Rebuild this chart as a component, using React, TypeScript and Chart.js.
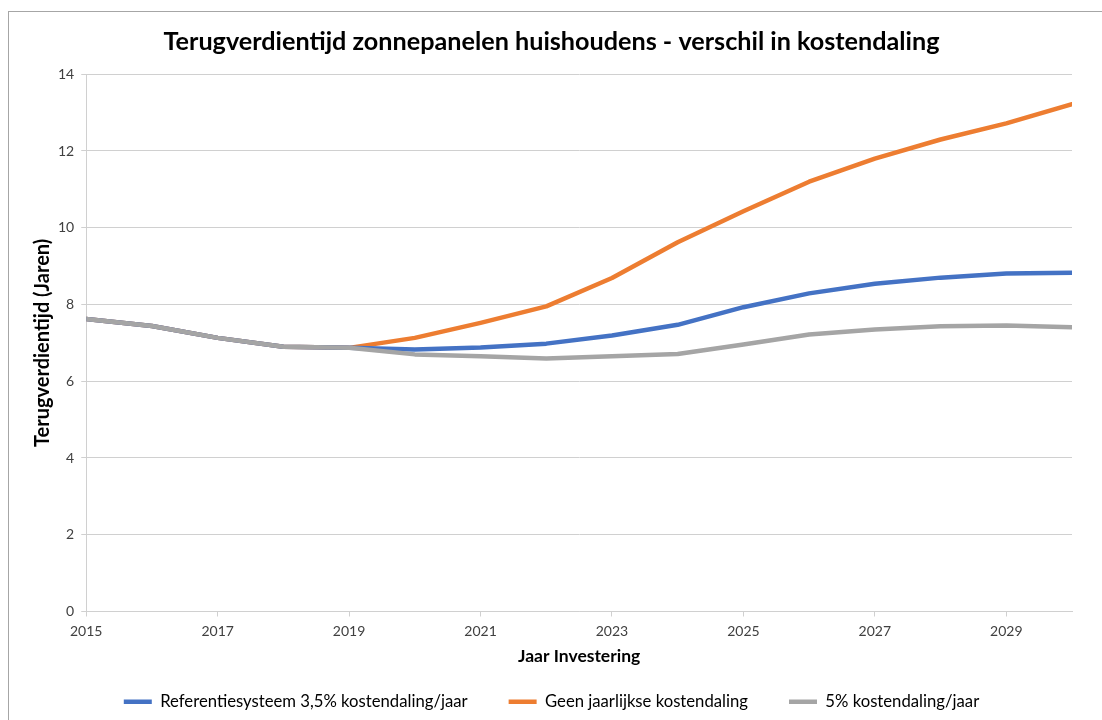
import React, { useEffect, useRef } from "react";
import { Chart, registerables } from "chart.js";

Chart.register(...registerables);

const years = [2015, 2016, 2017, 2018, 2019, 2020, 2021, 2022, 2023, 2024, 2025, 2026, 2027, 2028, 2029, 2030];
const referentie = [7.62, 7.44, 7.13, 6.9, 6.87, 6.83, 6.88, 6.98, 7.19, 7.47, 7.93, 8.29, 8.54, 8.7, 8.81, 8.83];
const geenDaling = [7.62, 7.44, 7.13, 6.9, 6.87, 7.13, 7.52, 7.95, 8.69, 9.62, 10.43, 11.2, 11.8, 12.3, 12.72, 13.22];
const vijfProcent = [7.62, 7.44, 7.13, 6.9, 6.87, 6.7, 6.65, 6.59, 6.65, 6.71, 6.96, 7.22, 7.35, 7.43, 7.45, 7.41];

const xTickYears = [2015, 2017, 2019, 2021, 2023, 2025, 2027, 2029];

const seriesNames = [
  "Referentiesysteem 3,5% kostendaling/jaar",
  "Geen jaarlijkse kostendaling",
  "5% kostendaling/jaar",
];
const seriesColors = ["#4472C4", "#ED7D31", "#A5A5A5"];
const seriesValues = [referentie, geenDaling, vijfProcent];
const seriesOrder = [2, 3, 1];

const titleText = "Terugverdientijd zonnepanelen huishoudens - verschil in kostendaling";
const xTitle = "Jaar Investering";
const yTitle = "Terugverdientijd (Jaren)";

const FONT = "Lato, 'Open Sans', 'Noto Sans', sans-serif";

export default function App() {
  const ref = useRef<HTMLCanvasElement | null>(null);

  useEffect(() => {
    if (!ref.current) return;
    const chart = new Chart(ref.current, {
      type: "line",
      data: {
        datasets: seriesNames.map((name, i) => ({
          label: name,
          data: years.map((yr, j) => ({ x: yr, y: seriesValues[i][j] })),
          borderColor: seriesColors[i],
          backgroundColor: seriesColors[i],
          borderWidth: 4.5,
          borderCapStyle: "round",
          borderJoinStyle: "round",
          pointRadius: 0,
          tension: 0,
          order: seriesOrder[i],
        })),
      },
      options: {
        animation: false,
        responsive: false,
        maintainAspectRatio: false,
        layout: { padding: { left: 31, right: 30, top: 0, bottom: 0 } },
        plugins: {
          title: {
            display: true,
            text: titleText,
            color: "#000000",
            font: { family: FONT, size: 25.2, weight: "bold" },
            padding: { top: 27, bottom: 17 },
          },
          legend: {
            position: "bottom",
            labels: {
              usePointStyle: true,
              pointStyle: "line",
              pointStyleWidth: 28,
              color: "#000000",
              font: { family: FONT, size: 16.7 },
              padding: 41,
              sort: (a: any, b: any) => a.datasetIndex - b.datasetIndex,
            },
          },
          tooltip: { enabled: false },
        },
        scales: {
          x: {
            type: "linear",
            min: 2015,
            max: 2030,
            afterBuildTicks: (scale: any) => {
              scale.ticks = xTickYears.map((v) => ({ value: v }));
            },
            ticks: {
              color: "#404040",
              font: { family: FONT, size: 14 },
              padding: 7,
              maxRotation: 0,
              autoSkip: false,
              callback: (v: any) => String(v),
            },
            grid: { drawOnChartArea: false, drawTicks: true, tickLength: 5, color: "#d0d0d0" },
            border: { color: "#d0d0d0", width: 1 },
            title: {
              display: true,
              text: xTitle,
              color: "#000000",
              font: { family: FONT, size: 17.5, weight: "bold" },
              padding: { top: -1, bottom: -15 },
            },
          },
          y: {
            min: 0,
            max: 14,
            ticks: {
              stepSize: 2,
              color: "#404040",
              font: { family: FONT, size: 14 },
              padding: 7,
            },
            grid: { color: "#d0d0d0", tickLength: 5, lineWidth: 1 },
            border: { color: "#d0d0d0", width: 1 },
            title: {
              display: true,
              text: yTitle,
              color: "#000000",
              font: { family: FONT, size: 20, weight: "bold" },
              padding: { top: 0, bottom: -4 },
            },
          },
        },
      },
    } as any);
    return () => chart.destroy();
  }, []);

  return (
    <div style={{ position: "fixed", left: 0, top: 0, width: 1102, height: 720, overflow: "hidden", background: "#ffffff" }}>
      <div
        style={{
          position: "absolute",
          left: 8,
          top: 11,
          width: 1200,
          height: 800,
          border: "1px solid #a6a6a6",
          boxSizing: "border-box",
        }}
      />
      <canvas ref={ref} width={1102} height={720} style={{ position: "absolute", left: 0, top: 0, width: 1102, height: 720 }} />
    </div>
  );
}
